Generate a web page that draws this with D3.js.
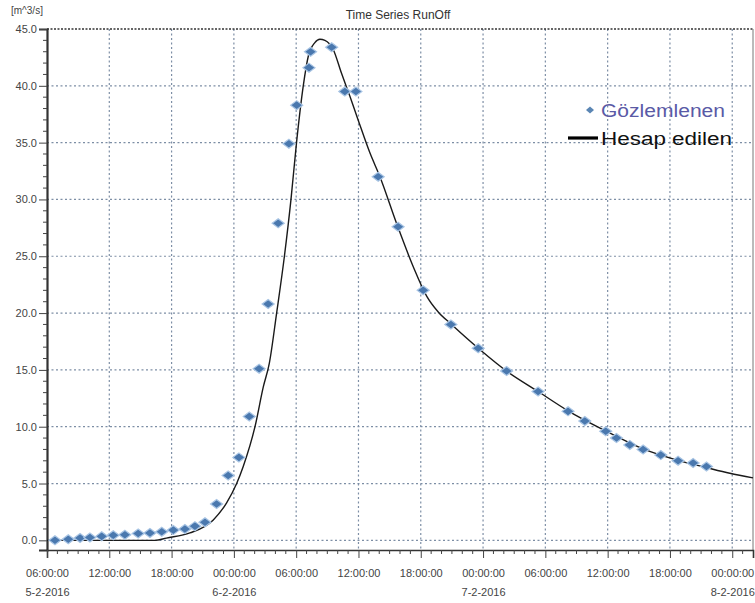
<!DOCTYPE html>
<html>
<head>
<meta charset="utf-8">
<script src="https://cdn.jsdelivr.net/npm/d3@7/dist/d3.min.js"></script>
<style>
  html, body { margin: 0; padding: 0; background: #fff; }
  svg { display: block; }
  text { font-family: "Liberation Sans", Arial, sans-serif; }
</style>
</head>
<body>
<svg id="chart" width="755" height="603"></svg>
<script>
// ---------- data ----------
const chartTitle = "Time Series RunOff";
const unitLabel = "[m^3/s]";
const seriesNames = ["Gözlemlenen", "Hesap edilen"];

// observed (Gözlemlenen) : time, discharge
const observedTimes = [
  "2016-02-05 06:46","2016-02-05 08:03","2016-02-05 09:11","2016-02-05 10:08","2016-02-05 11:16",
  "2016-02-05 12:23","2016-02-05 13:30","2016-02-05 14:47","2016-02-05 15:55","2016-02-05 17:03",
  "2016-02-05 18:10","2016-02-05 19:17","2016-02-05 20:15","2016-02-05 21:13","2016-02-05 22:20",
  "2016-02-05 23:27","2016-02-06 00:29","2016-02-06 01:29","2016-02-06 02:26","2016-02-06 03:18",
  "2016-02-06 04:16","2016-02-06 05:18","2016-02-06 06:03","2016-02-06 07:14","2016-02-06 07:23",
  "2016-02-06 09:25","2016-02-06 10:41","2016-02-06 11:45","2016-02-06 13:54","2016-02-06 15:49",
  "2016-02-06 18:14","2016-02-06 20:54","2016-02-06 23:32","2016-02-07 02:16","2016-02-07 05:18",
  "2016-02-07 08:11","2016-02-07 09:48","2016-02-07 11:49","2016-02-07 12:51","2016-02-07 14:08",
  "2016-02-07 15:25","2016-02-07 17:07","2016-02-07 18:47","2016-02-07 20:14","2016-02-07 21:31"
];
const observedValues = [
  0.0, 0.1, 0.2, 0.25, 0.35,
  0.45, 0.5, 0.6, 0.65, 0.75,
  0.9, 1.0, 1.25, 1.6, 3.2,
  5.7, 7.3, 10.9, 15.1, 20.8,
  27.9, 34.9, 38.3, 41.6, 43.0,
  43.4, 39.5, 39.5, 32.0, 27.6,
  22.0, 19.0, 16.9, 14.9, 13.1,
  11.35, 10.5, 9.6, 9.0, 8.4,
  8.0, 7.5, 7.0, 6.8, 6.5
];

// computed (Hesap edilen) : time, discharge
const computedTimes = [
  "2016-02-05 06:00","2016-02-05 12:00","2016-02-05 16:24","2016-02-05 17:30","2016-02-05 19:46",
  "2016-02-05 22:01","2016-02-05 23:18","2016-02-06 00:16","2016-02-06 00:54","2016-02-06 02:02",
  "2016-02-06 02:50","2016-02-06 03:25","2016-02-06 04:07","2016-02-06 04:52","2016-02-06 05:30",
  "2016-02-06 06:02","2016-02-06 06:41","2016-02-06 07:10","2016-02-06 07:48","2016-02-06 08:17",
  "2016-02-06 08:46","2016-02-06 09:34","2016-02-06 10:22","2016-02-06 11:10","2016-02-06 11:58",
  "2016-02-06 13:06","2016-02-06 14:04","2016-02-06 15:40","2016-02-06 17:16","2016-02-06 18:34",
  "2016-02-06 19:41","2016-02-06 20:58","2016-02-06 23:41","2016-02-07 02:16","2016-02-07 05:18",
  "2016-02-07 08:11","2016-02-07 11:53","2016-02-07 15:25","2016-02-07 18:56","2016-02-07 21:31",
  "2016-02-07 23:46","2016-02-08 02:00"
];
const computedValues = [
  0.0, 0.0, 0.0, 0.2, 0.65,
  1.8, 3.3, 5.0, 6.5, 10.0,
  13.5, 15.6, 20.0, 25.0, 30.0,
  35.0, 40.0, 42.6, 43.8, 44.1,
  44.0, 43.2, 41.1, 39.1, 37.0,
  34.1, 32.0, 27.9, 24.1, 21.5,
  20.1, 19.0, 16.8, 14.9, 13.1,
  11.4, 9.6, 8.05, 7.0, 6.4,
  5.9, 5.5
];

const yTicks = [0, 5, 10, 15, 20, 25, 30, 35, 40, 45];
const xTickTimes = [
  "2016-02-05 06:00","2016-02-05 12:00","2016-02-05 18:00","2016-02-06 00:00",
  "2016-02-06 06:00","2016-02-06 12:00","2016-02-06 18:00","2016-02-07 00:00",
  "2016-02-07 06:00","2016-02-07 12:00","2016-02-07 18:00","2016-02-08 00:00"
];
const xDomain = ["2016-02-05 06:00", "2016-02-08 02:00"];
const yDomain = [-0.85, 45];

// ---------- drawing ----------
const parse = d3.timeParse("%Y-%m-%d %H:%M");
const svg = d3.select("#chart");
const L = 47, R = 753, T = 29, B = 550;

const x = d3.scaleTime().domain(xDomain.map(parse)).range([L, R]);
const y = d3.scaleLinear().domain(yDomain).range([B, T]);

const observed = observedTimes.map((t, i) => ({ t: parse(t), v: observedValues[i] }));
const computed = computedTimes.map((t, i) => ({ t: parse(t), v: computedValues[i] }));
const xTicks = xTickTimes.map(parse);

const gridColor = "#7d8ea5";

// gridlines
const grid = svg.append("g");
grid.selectAll("line.h").data(yTicks.filter(d => d < 45)).enter().append("line")
  .attr("x1", L).attr("x2", R).attr("y1", d => y(d)).attr("y2", d => y(d))
  .attr("stroke", gridColor).attr("stroke-width", 1.2).attr("stroke-dasharray", "2,2.5");
grid.selectAll("line.v").data(xTicks.slice(1)).enter().append("line")
  .attr("x1", d => x(d)).attr("x2", d => x(d)).attr("y1", T).attr("y2", B)
  .attr("stroke", gridColor).attr("stroke-width", 1.2).attr("stroke-dasharray", "2,2.5");

// frame
svg.append("line").attr("x1", L).attr("x2", R).attr("y1", y(45)).attr("y2", y(45))
  .attr("stroke", "#333").attr("stroke-width", 1.6).attr("stroke-dasharray", "2,1.5");
svg.append("line").attr("x1", R).attr("x2", R).attr("y1", T).attr("y2", B)
  .attr("stroke", "#777").attr("stroke-width", 1);

// y axis
const yAxis = d3.axisLeft(y).tickValues(yTicks).tickFormat(d3.format(".1f")).tickSize(8).tickPadding(2);
const gy = svg.append("g").attr("transform", `translate(${L},0)`).call(yAxis);
gy.select(".domain").attr("stroke", "#333").attr("stroke-width", 2.2);
gy.selectAll(".tick line").attr("stroke", "#444");
gy.selectAll(".tick text").attr("font-size", 11).attr("fill", "#444");
const yMinor = d3.range(0, 46, 1).filter(d => d % 5 !== 0);
gy.selectAll("line.minor").data(yMinor).enter().append("line")
  .attr("x1", -4).attr("x2", 0).attr("y1", d => y(d)).attr("y2", d => y(d))
  .attr("stroke", "#444");

// x axis
const fmtTime = d3.timeFormat("%H:%M:%S");
const fmtDate = d => `${d.getDate()}-${d.getMonth() + 1}-${d.getFullYear()}`;
const xAxis = d3.axisBottom(x).tickValues(xTicks).tickFormat("").tickSize(8);
const gx = svg.append("g").attr("transform", `translate(0,${B})`).call(xAxis);
gx.select(".domain").attr("stroke", "#333").attr("stroke-width", 1.6);
gx.selectAll(".tick line").attr("stroke", "#444");
const xMinor = d3.timeHour.range(x.domain()[0], x.domain()[1]).filter(d => d.getHours() % 6 !== 0);
gx.selectAll("line.minor").data(xMinor).enter().append("line")
  .attr("x1", d => x(d)).attr("x2", d => x(d)).attr("y1", 0).attr("y2", 4)
  .attr("stroke", "#444");
gx.selectAll(".tick").each(function (d, i) {
  const g = d3.select(this);
  g.select("text").remove();
  const txt = g.append("text").attr("fill", "#444").attr("font-size", 11)
    .attr("text-anchor", "middle");
  txt.append("tspan").attr("x", 0).attr("y", 27).text(fmtTime(d));
  if (i === 0 || d.getHours() === 0) {
    txt.append("tspan").attr("x", 0).attr("y", 46).text(fmtDate(d));
  }
});

// titles
svg.append("text").attr("x", 398).attr("y", 19).attr("text-anchor", "middle")
  .attr("font-size", 12).attr("fill", "#333").text(chartTitle);
svg.append("text").attr("x", 11).attr("y", 14)
  .attr("font-size", 10).attr("fill", "#444").text(unitLabel);

// computed line
const line = d3.line().x(d => x(d.t)).y(d => y(d.v)).curve(d3.curveMonotoneX);
svg.append("path").datum(computed).attr("d", line)
  .attr("fill", "none").attr("stroke", "#1a1a1a").attr("stroke-width", 1.4);

// observed markers
const diamond = "M-6,0L0,-4.5L6,0L0,4.5Z";
svg.append("g").selectAll("path").data(observed).enter().append("path")
  .attr("d", diamond)
  .attr("transform", d => `translate(${x(d.t)},${y(d.v)})`)
  .attr("fill", "#4a78ae").attr("stroke", "#a9c5e4").attr("stroke-width", 1.2);

// legend
const lg = svg.append("g");
lg.append("path").attr("d", "M-4,0L0,-3.5L4,0L0,3.5Z").attr("transform", "translate(590,110)")
  .attr("fill", "#5b86b4");
lg.append("text").attr("x", 601).attr("y", 117).attr("font-size", 18)
  .attr("font-family", "Open Sans, sans-serif").attr("fill", "#5a5aa6")
  .attr("textLength", 124).attr("lengthAdjust", "spacingAndGlyphs").text(seriesNames[0]);
lg.append("line").attr("x1", 568).attr("x2", 598).attr("y1", 138).attr("y2", 138)
  .attr("stroke", "#000").attr("stroke-width", 3.2);
lg.append("text").attr("x", 601).attr("y", 145).attr("font-size", 18)
  .attr("font-family", "Open Sans, sans-serif").attr("fill", "#111")
  .attr("textLength", 131).attr("lengthAdjust", "spacingAndGlyphs").text(seriesNames[1]);
</script>
</body>
</html>
